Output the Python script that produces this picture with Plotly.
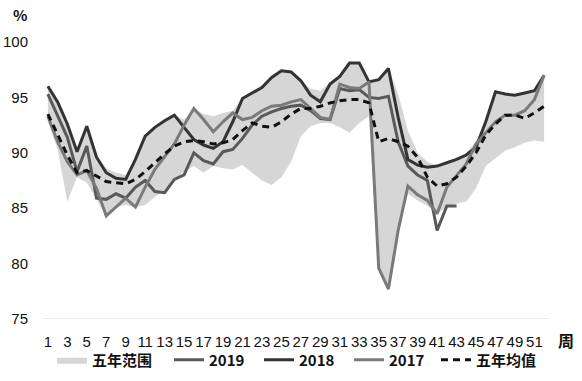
import plotly.graph_objects as go

weeks = list(range(1, 53))
tick_vals = list(range(1, 52, 2))
tick_text = [str(v) for v in tick_vals]
y_ticks = [75, 80, 85, 90, 95, 100]

band_hi = [96.0, 94.6, 92.6, 90.1, 92.4, 89.8, 88.6, 88.2, 88.0, 89.4,
           91.5, 92.3, 92.9, 93.4, 93.0, 94.0, 93.5, 93.3, 93.6, 93.8,
           95.0, 95.5, 96.0, 96.8, 97.4, 97.3, 96.5, 95.8, 95.6, 96.3,
           96.9, 98.1, 98.1, 96.6, 96.6, 97.6, 95.3, 92.0, 90.0, 89.2,
           88.8, 89.1, 89.5, 90.0, 91.0, 93.0, 95.5, 95.3, 95.2, 95.4,
           95.6, 97.0]
band_lo = [92.8, 90.3, 85.6, 87.8, 87.3, 85.8, 84.3, 85.1, 85.3, 85.1,
           85.3, 86.0, 86.6, 87.6, 88.3, 88.8, 88.2, 88.8, 88.6, 88.5,
           88.9, 88.2, 87.5, 87.1, 87.8, 89.2, 91.5, 92.4, 92.7, 92.7,
           92.3, 91.8, 92.7, 93.3, 79.6, 77.7, 83.0, 86.3, 85.7, 85.2,
           84.5, 85.1, 85.4, 85.6, 86.8, 88.8, 89.5, 90.2, 90.5, 90.9,
           91.1, 91.0]
y2019 = [95.3, 93.4, 91.4, 88.3, 90.6, 85.9, 85.8, 86.3, 85.9, 86.9,
         87.5, 86.5, 86.4, 87.6, 88.0, 90.0, 89.3, 89.0, 90.1, 90.3,
         91.3, 92.5, 93.3, 93.7, 94.0, 94.2, 94.3, 93.8, 93.1, 93.0,
         95.8, 95.6, 95.7, 95.0, 94.9, 95.1, 91.0, 88.8, 88.0, 87.5,
         83.0, 85.2, 85.2] + [None] * 9
y2018 = [96.0, 94.6, 92.6, 90.1, 92.4, 89.6, 88.2, 87.7, 87.6, 89.4,
         91.5, 92.3, 92.9, 93.4, 92.3, 91.2, 90.7, 90.4, 91.0, 92.8,
         94.9, 95.4, 95.9, 96.8, 97.4, 97.3, 96.5, 95.2, 94.6, 96.2,
         96.9, 98.1, 98.1, 96.4, 96.6, 97.6, 93.2, 89.4, 88.9, 88.7,
         88.8, 89.1, 89.4, 89.8, 90.5, 92.8, 95.5, 95.3, 95.2, 95.4,
         95.6, 97.0]
y2017 = [93.3, 91.0, 89.2, 88.0, 88.4, 86.8, 84.3, 85.1, 85.9, 85.1,
         86.9, 88.5, 89.6, 90.8, 92.5, 94.0, 93.0, 91.9, 92.8, 93.6,
         93.0, 93.2, 93.8, 94.2, 94.3, 94.6, 94.8, 94.0, 93.2, 93.0,
         96.2, 95.9, 95.8, 96.4, 79.6, 77.7, 83.0, 87.0, 86.2, 85.7,
         84.5, 86.9, 87.9, 89.0, 90.8, 91.8, 92.8, 93.4, 93.4, 93.8,
         94.8, 97.0]
mean5 = [93.5, 91.6, 89.8, 88.2, 88.4, 87.9, 87.4, 87.3, 87.2, 87.6,
         88.3, 89.1, 89.9, 90.6, 91.0, 91.1, 91.0, 90.8, 90.9, 91.2,
         92.0, 92.7, 92.4, 92.3, 92.8, 93.5, 94.0, 94.0, 94.2, 94.5,
         94.7, 94.8, 94.8, 94.5, 91.0, 91.3, 91.0, 90.6, 89.6, 87.8,
         87.0, 87.2, 87.8, 88.8, 90.0, 91.6, 92.6, 93.4, 93.4, 93.1,
         93.6, 94.2]

num_font = "Liberation Sans Narrow, Arial Narrow, Liberation Sans, sans-serif"
cjk_font = "Noto Sans CJK SC, sans-serif"

W, H = 582, 381
ML, MR, MT, MB = 43, 33, 42, 62
PW, PH = W - ML - MR, H - MT - MB


def px_to_paper(px, py):
    return (px - ML) / PW, (H - MB - py) / PH


fig = go.Figure()
fig.add_trace(go.Scatter(x=weeks, y=band_lo, mode="lines", line=dict(width=0),
                         showlegend=False, hoverinfo="skip"))
fig.add_trace(go.Scatter(x=weeks, y=band_hi, mode="lines", line=dict(width=0),
                         fill="tonexty", fillcolor="#d6d6d6", name="五年范围",
                         legend="legend"))
fig.add_trace(go.Scatter(x=weeks, y=y2019, mode="lines", name="2019", legend="legend2",
                         line=dict(color="#595959", width=3)))
fig.add_trace(go.Scatter(x=weeks, y=y2018, mode="lines", name="2018", legend="legend2",
                         line=dict(color="#333333", width=3)))
fig.add_trace(go.Scatter(x=weeks, y=y2017, mode="lines", name="2017", legend="legend2",
                         line=dict(color="#7a7a7a", width=3)))
fig.add_trace(go.Scatter(x=weeks, y=mean5, mode="lines", name="五年均值", legend="legend3",
                         line=dict(color="#111111", width=3, dash="7px,5px")))

pct_x, pct_y = px_to_paper(20, 15)
zhou_x, zhou_y = px_to_paper(566, 340)
leg1_x, _ = px_to_paper(52, 0)
leg2_x, _ = px_to_paper(169, 0)
leg3_x, _ = px_to_paper(436, 0)
legend_font = dict(family=cjk_font, size=15, color="#111111", weight="bold")
common_leg = dict(orientation="h", y=0.055, xref="paper", yref="container",
                  xanchor="left", yanchor="middle", traceorder="normal",
                  font=legend_font, itemwidth=30, bgcolor="rgba(0,0,0,0)")

fig.update_layout(
    width=W, height=H,
    margin=dict(l=ML, r=MR, t=MT, b=MB, autoexpand=False),
    paper_bgcolor="white", plot_bgcolor="white",
    showlegend=True,
    legend=dict(x=leg1_x, **common_leg),
    legend2=dict(x=leg2_x, entrywidth=45, **common_leg),
    legend3=dict(x=leg3_x, **common_leg),
    xaxis=dict(range=[0.5, 52.5], tickmode="array", tickvals=tick_vals, ticktext=tick_text,
               showgrid=False, zeroline=False, showline=False, ticks="",
               automargin=False,
               tickfont=dict(family=num_font, size=15, color="#111111"),
               ticklabelstandoff=12),
    yaxis=dict(range=[75, 100], tickmode="array", tickvals=y_ticks,
               showgrid=False, zeroline=False, showline=False, ticks="",
               automargin=False,
               tickfont=dict(family=num_font, size=15, color="#111111"),
               ticklabelstandoff=14),
    annotations=[
        dict(text="%", x=pct_x, y=pct_y, xref="paper", yref="paper", showarrow=False,
             xanchor="center", yanchor="middle",
             font=dict(family=cjk_font, size=15, color="#111111", weight="bold")),
        dict(text="周", x=zhou_x, y=zhou_y, xref="paper", yref="paper", showarrow=False,
             xanchor="center", yanchor="middle",
             font=dict(family=cjk_font, size=16, color="#111111", weight="bold")),
    ],
    shapes=[dict(type="line", xref="paper", yref="y", x0=0, x1=1, y0=75, y1=75,
                 line=dict(color="#d9d9d9", width=1))],
)

fig.write_html("out.html", config={"displayModeBar": False},
               post_script="document.body.style.margin='0';")
